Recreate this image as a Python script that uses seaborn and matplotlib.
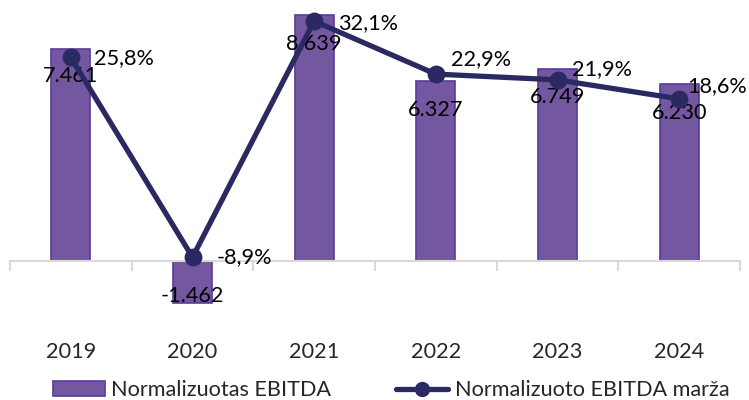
import matplotlib
matplotlib.use("Agg")
import matplotlib.pyplot as plt
from matplotlib.patches import Patch
from matplotlib.lines import Line2D
import numpy as np
import seaborn as sns

# duomenys
metai = ["2019", "2020", "2021", "2022", "2023", "2024"]
ebitda = [7461, -1462, 8639, 6327, 6749, 6230]
marza = [25.8, -8.9, 32.1, 22.9, 21.9, 18.6]
ebitda_txt = ["7.461", "-1.462", "8.639", "6.327", "6.749", "6.230"]
marza_txt = ["25,8%", "-8,9%", "32,1%", "22,9%", "21,9%", "18,6%"]

bar_spalva = "#7457A1"
krastas = "#583C98"
linijos_spalva = "#2A2961"
pilka = "#D9D9D9"

sns.set_theme(style="white")
plt.rcParams["font.family"] = ["Lato", "DejaVu Sans"]
fs = 15.6

fig = plt.figure(figsize=(7.49, 4.0), dpi=100)
ax = fig.add_axes([10 / 749, 90 / 400, 730 / 749, 305 / 400])

sns.barplot(x=metai, y=ebitda, ax=ax, color=bar_spalva, edgecolor=krastas,
            linewidth=1.2, width=0.32, saturation=1)
ax.set_xlim(-0.5, 5.5)
ax.set_ylim(-1722, 8998)

for s in ["top", "right", "left"]:
  ax.spines[s].set_visible(False)
ax.spines["bottom"].set_position(("data", 0))
ax.spines["bottom"].set_color(pilka)
ax.spines["bottom"].set_linewidth(1.5)
ax.set_yticks([])
ax.set_xticks(np.arange(-0.5, 6, 1), minor=True)
ax.tick_params(axis="x", which="minor", length=7, width=1.5, color=pilka, direction="out", bottom=True)
ax.tick_params(axis="x", which="major", length=0, pad=58, labelsize=fs)
ax.set_xlabel("")
ax.set_ylabel("")

ax2 = ax.twinx()
sns.pointplot(x=metai, y=marza, ax=ax2, color=linijos_spalva, markers="o",
              markersize=10, linewidth=3.8)
ax2.set_ylim(-18.06, 34.9)
ax2.set_xlim(-0.5, 5.5)
ax2.axis("off")

# stulpeliu reiksmes
bar_off = [(0, -27), (0, 7), (0, -29), (0, -29), (0, -28), (0, -29)]
for i, (v, t) in enumerate(zip(ebitda, ebitda_txt)):
  ax.annotate(t, (i, v), xytext=bar_off[i], textcoords="offset pixels",
              ha="center", va="center", fontsize=fs, color="black")

# marzos reiksmes
line_off = [(23, -1), (24, 0), (24, -2), (15, 15), (14, 11), (8, 13)]
for i, (v, t) in enumerate(zip(marza, marza_txt)):
  ax2.annotate(t, (i, v), xytext=line_off[i], textcoords="offset pixels",
               ha="left", va="center", fontsize=fs, color="black")

h = [Patch(facecolor=bar_spalva, edgecolor=krastas, linewidth=1.2),
     Line2D([], [], color=linijos_spalva, lw=3.8, marker="o", markersize=10)]
fig.legend(h, ["Normalizuotas EBITDA", "Normalizuoto EBITDA marža"],
           loc="center", bbox_to_anchor=(391 / 749, 10 / 400), ncol=2, frameon=False,
           fontsize=fs, handlelength=2.4, handleheight=0.65, handletextpad=0.3,
           columnspacing=3.0, borderaxespad=0)

fig.savefig("out.png", dpi=100)
